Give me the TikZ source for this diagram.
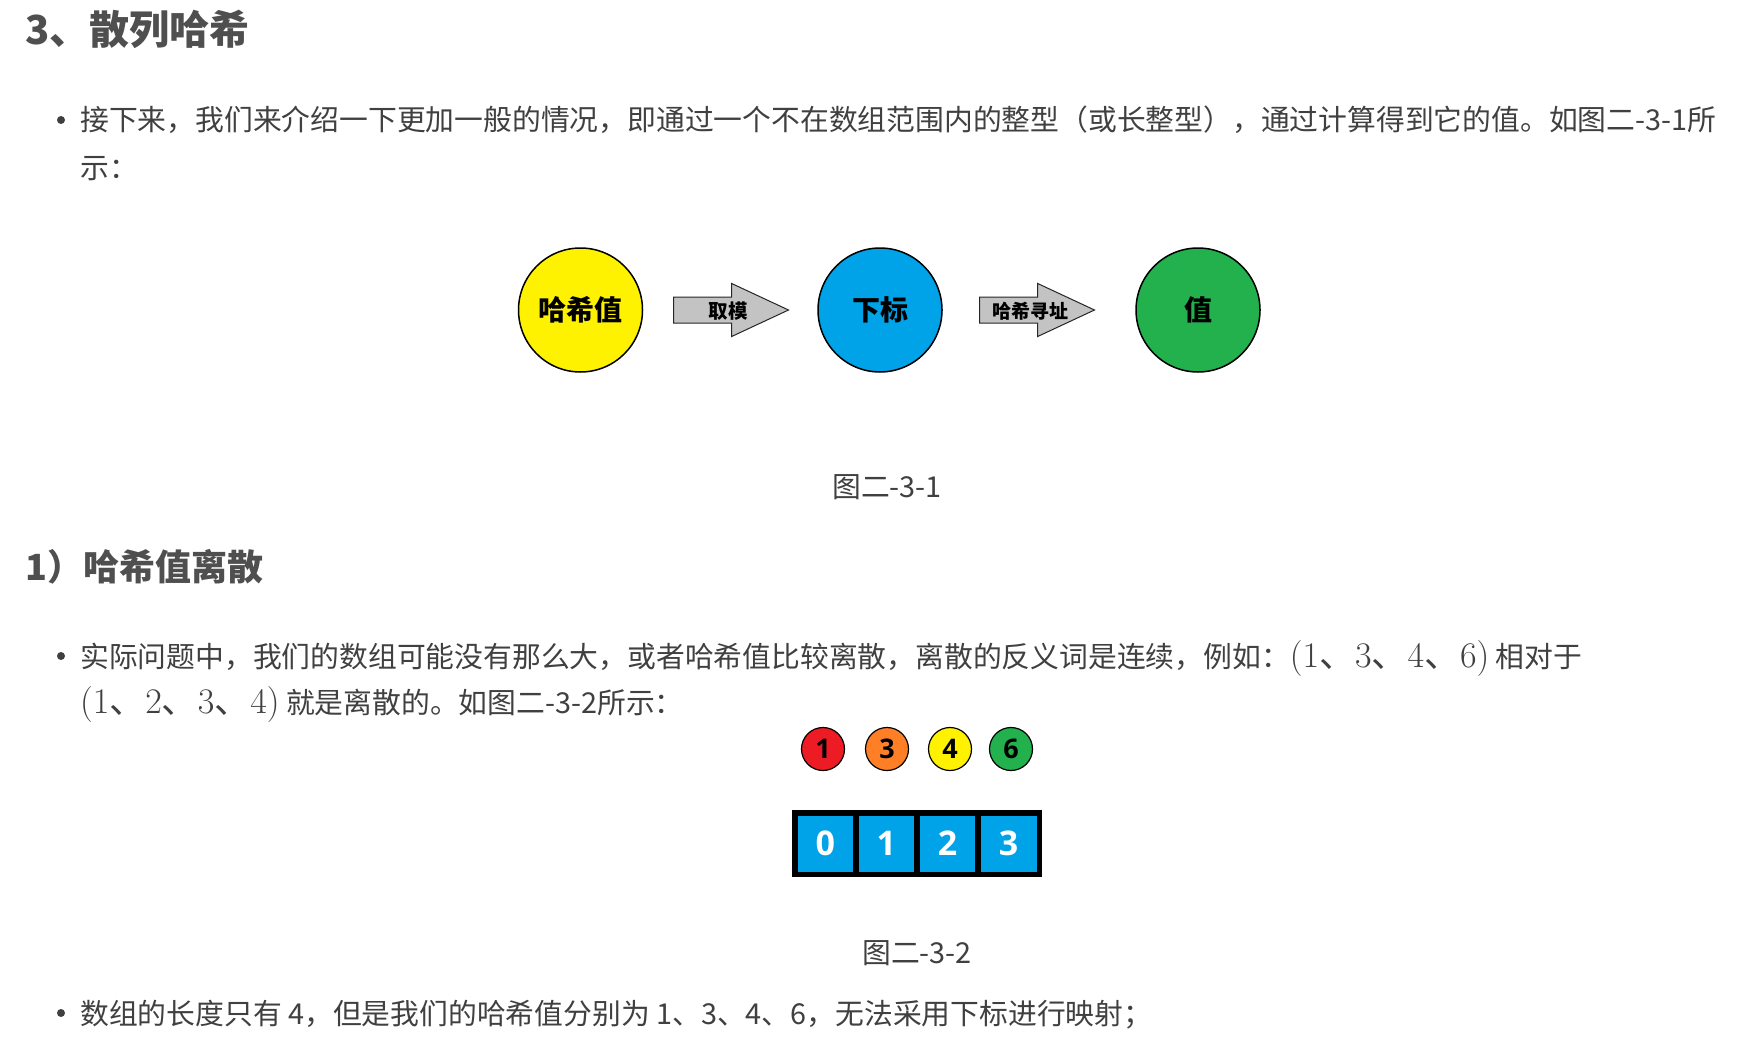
\RequirePackage{fix-cm}
\documentclass[tikz,border=0pt]{standalone}
\usepackage[no-math]{fontspec}
\setmainfont{Noto Sans CJK SC}
\newfontfamily\digitfont{Open Sans}
\usepackage{xcolor}
\usetikzlibrary{shapes.arrows,positioning}
\definecolor{hashYellow}{RGB}{255,242,0}
\definecolor{hashBlue}{RGB}{0,162,232}
\definecolor{hashGreen}{RGB}{34,177,76}
\definecolor{hashRed}{RGB}{237,28,36}
\definecolor{hashOrange}{RGB}{255,127,39}
\definecolor{hashGray}{RGB}{195,195,195}
\definecolor{textGray}{RGB}{64,64,64}
\definecolor{headGray}{RGB}{79,79,79}

\begin{document}
\begin{tikzpicture}[
    x=1pt, y=-1pt,
    every node/.style={inner sep=0pt, text=textGray},
    heading/.style={anchor=base west, text=headGray, font=\bfseries\fontsize{#1}{#1}\selectfont},
    body/.style={anchor=base west, font=\fontsize{#1}{30}\selectfont},
    body/.default=28.8,
    caption/.style={anchor=base, font=\fontsize{28.8}{30}\selectfont},
    bulletdot/.style={circle, fill=textGray, minimum size=8pt},
    bigcircle/.style={circle, draw=black, line width=1.5pt, minimum size=124pt, text=black, font=\bfseries\fontsize{28}{28}\selectfont},
    blockarrow/.style={single arrow, draw=black!85, fill=hashGray, line width=1pt, single arrow head extend=13.5pt, single arrow tip angle=50, minimum height=115pt, inner xsep=4pt, inner ysep=2.5pt, text height=17.4pt, text depth=2.6pt, anchor=tail},
    arrowtext/.style={text=black, font=\bfseries\fontsize{#1}{#1}\selectfont},
    arrowtext/.default=19.5,
    dot/.style={circle, draw=black, line width=1.2pt, minimum size=43pt, text=black, font=\digitfont\bfseries\fontsize{27}{27}\selectfont},
    cell/.style={rectangle, draw=black, fill=hashBlue, line width=5.5pt, minimum width=61.125pt, minimum height=61.5pt, outer sep=0pt, text=white, font=\digitfont\bfseries\fontsize{34}{34}\selectfont}
]
\fill[white] (0,0) rectangle (1744,1054);
\useasboundingbox (0,0) rectangle (1744,1054);

\node[heading=40] (h1) at (25,45) {3、散列哈希};
\node[bulletdot] (b1) at (61,120) {};
\node[body] (t1) at (80,131) {接下来，我们来介绍一下更加一般的情况，即通过一个不在数组范围内的整型（或长整型），通过计算得到它的值。如图二-3-1所};
\node[body] (t1b) at (80,178) {示：};

\node[bigcircle, fill=hashYellow] (hv) at (580.5,310) {哈希值};
\node[blockarrow] (mod) at (673,310) {};
\node[arrowtext] (modt) at (728,311) {取模};
\node[bigcircle, fill=hashBlue] (idx) at (880,310) {下标};
\node[blockarrow] (addr) at (979,310) {};
\node[arrowtext=19] (addrt) at (1030,311) {哈希寻址};
\node[bigcircle, fill=hashGreen] (val) at (1198,310) {值};
\node[caption] (cap1) at (887,497) {图二-3-1};

\node[heading=36] (h2) at (25,580) {1）哈希值离散};
\node[bulletdot] (b2) at (61,656) {};
\node[body] (t2) at (80,667.5) {实际问题中，我们的数组可能没有那么大，或者哈希值比较离散，离散的反义词是连续，例如：{\fontsize{36}{36}\selectfont$(1$、$3$、$4$、$6)$} 相对于};
\node[body] (t2b) at (80,713) {{\fontsize{36}{36}\selectfont$(1$、$2$、$3$、$4)$} 就是离散的。如图二-3-2所示：};

\foreach \x/\n/\c in {823/1/hashRed,887/3/hashOrange,950/4/hashYellow,1011/6/hashGreen} {
  \node[dot, fill=\c] (d\n) at (\x,749) {\n};
}
\foreach \i in {0,...,3} {
  \node[cell] (a\i) at ({794.75+61.125*(\i+0.5)},843.5) {\i};
}
\node[caption] (cap2) at (917,963) {图二-3-2};

\node[bulletdot] (b3) at (61,1013) {};
\node[body] (t3) at (80,1024) {数组的长度只有 4，但是我们的哈希值分别为 1、3、4、6，无法采用下标进行映射；};
\end{tikzpicture}
\end{document}
